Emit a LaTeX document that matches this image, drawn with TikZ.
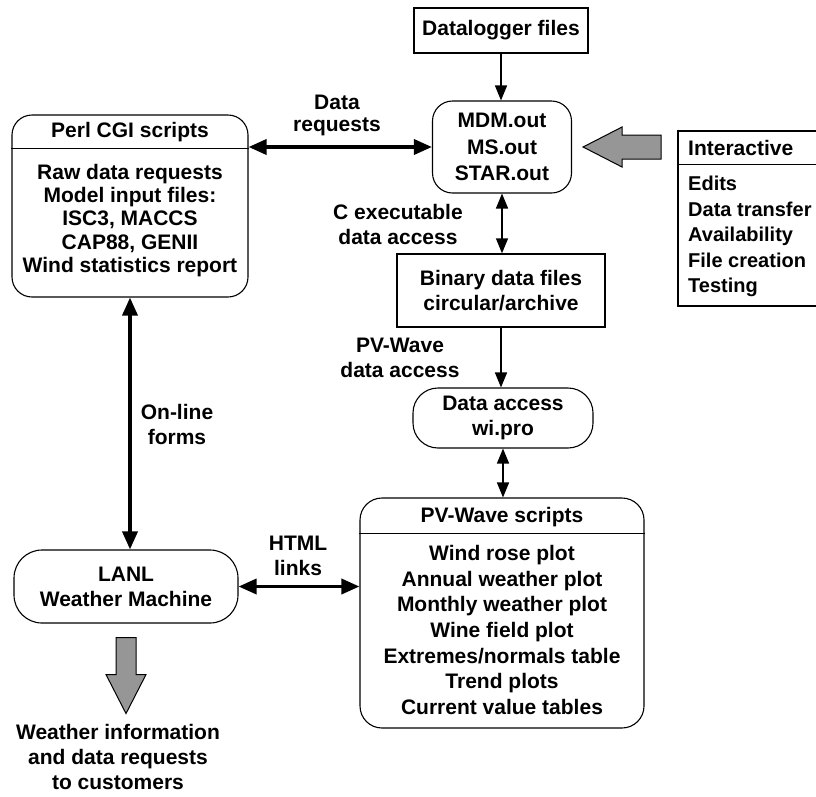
\documentclass[tikz,border=0pt]{standalone}
\usepackage{fontspec}
\setmainfont{Liberation Sans}
\usetikzlibrary{arrows.meta}
\definecolor{arrowgray}{RGB}{150,150,150}

\begin{document}
\begin{tikzpicture}[x=1pt,y=-1pt,
    every node/.style={font=\fontsize{21}{25}\selectfont\bfseries, align=center, inner sep=0pt},
    box/.style={draw, line width=1.4pt},
    rbox/.style={draw, line width=1.1pt, rounded corners=#1},
    rbox/.default=20pt,
    slimlink/.style={line width=1.5pt, >={Triangle[length=15pt,width=12pt]}},
    boldlink/.style={line width=3.5pt, >={Triangle[length=18pt,width=15pt]}},
    bigarrow/.style={draw, line width=1pt, fill=arrowgray}]
    \useasboundingbox (0,0) rectangle (816,796);

    % Drawing boxes part
    \node[box, minimum width=174pt, minimum height=45pt] (dlog) at (501,30.5) {Datalogger files};
    \node[rbox, minimum width=139pt, minimum height=92pt,
      font=\fontsize{21}{26.5}\selectfont\bfseries] (mdm) at (502,147) {MDM.out\\MS.out\\STAR.out};
    \node[box, minimum width=208pt, minimum height=73pt] (binary) at (501,290.5) {Binary data files\\circular/archive};
    \node[rbox=25pt, minimum width=180pt, minimum height=60pt] (daccess) at (503,418) {Data access\\wi.pro};
    \node[rbox=28pt, minimum width=224pt, minimum height=73pt] (lanl) at (126,586.5) {LANL\\Weather Machine};

    % Perl CGI box with title
    \node[rbox, minimum width=236pt, minimum height=182pt] (perl) at (130,206) {};
    \node (perltitle) at (130,132) {Perl CGI scripts};
    \node[font=\fontsize{21}{23.3}\selectfont\bfseries] (perlbody) at (130,220.5)
      {Raw data requests\\Model input files:\\ISC3, MACCS\\CAP88, GENII\\Wind statistics report};
    \draw[line width=1.1pt] ([yshift=-34pt]perl.north west) -- ([yshift=-34pt]perl.north east);

    % PV-Wave box with title
    \node[rbox=22pt, minimum width=284pt, minimum height=230pt] (pvw) at (502,613) {};
    \node (pvwtitle) at (502,517) {PV-Wave scripts};
    \node[font=\fontsize{21}{25.7}\selectfont\bfseries] (pvwbody) at (502,630)
      {Wind rose plot\\Annual weather plot\\Monthly weather plot\\Wine field plot\\Extremes/normals table\\Trend plots\\Current value tables};
    \draw[line width=1.1pt] ([yshift=-36pt]pvw.north west) -- ([yshift=-36pt]pvw.north east);

    % Interactive box, runs off the right side
    \node[box, minimum width=212pt, minimum height=175pt] (inter) at (784,218.5) {};
    \node[anchor=west] (intertitle) at (688,148) {Interactive};
    \draw[line width=1.4pt] ([yshift=-34pt]inter.north west) -- ([yshift=-34pt]inter.north east);
    \foreach \item [count=\i from 0] in {Edits,Data transfer,Availability,File creation,Testing}{
      \node[anchor=base west, font=\fontsize{20}{25}\selectfont\bfseries] (item\i) at (688,190.5+25.5*\i) {\item};
    }

    % Labels
    \node[font=\fontsize{21}{22}\selectfont\bfseries] (reqlbl) at (337,115) {Data\\requests};
    \node (cexlbl) at (398,224.5) {C executable\\data access};
    \node (pvlbl) at (400,358) {PV-Wave\\data access};
    \node (formlbl) at (177,424.5) {On-line\\forms};
    \node (htmllbl) at (298,555.5) {HTML\\links};
    \node (custlbl) at (118,757) {Weather information\\and data requests\\to customers};

    % Connectors
    \draw[slimlink,->] (dlog.south) -- (dlog.south |- mdm.north);
    \draw[boldlink,<->] (mdm.west -| perl.east) -- (mdm.west);
    \draw[slimlink,<->] (mdm.south) -- (mdm.south |- binary.north);
    \draw[slimlink,->] (binary.south) -- (binary.south |- daccess.north);
    \draw[slimlink,<->] (daccess.south) -- (daccess.south |- pvw.north);
    \draw[boldlink,<->] (perl.south) -- (perl.south |- lanl.north);
    \draw[boldlink,<->] (lanl.east) -- (lanl.east -| pvw.west);

    % Gray block arrows
    \filldraw[bigarrow] ([xshift=11pt]mdm.east) -- ++(39,-20) -- ++(0,8) -- ++(39,0)
      -- ++(0,24) -- ++(-39,0) -- ++(0,8) -- cycle;
    \filldraw[bigarrow] ([xshift=-10pt,yshift=-14pt]lanl.south) -- ++(20,0) -- ++(0,37)
      -- ++(10,0) -- ++(-20,39) -- ++(-20,-39) -- ++(10,0) -- cycle;
\end{tikzpicture}
\end{document}
